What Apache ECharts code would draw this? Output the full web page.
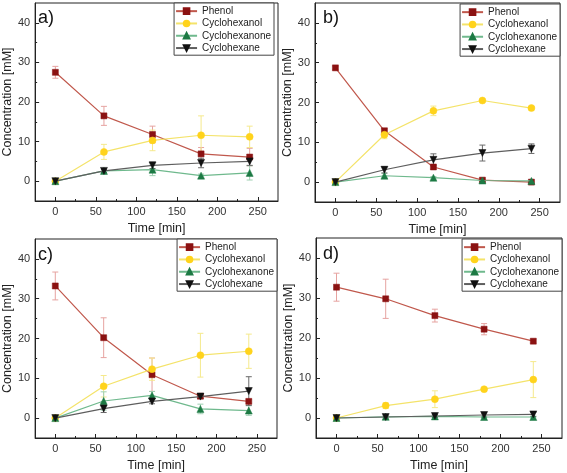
<!DOCTYPE html>
<html>
<head>
<meta charset="utf-8">
<script src="https://cdn.jsdelivr.net/npm/echarts@6/dist/echarts.min.js"></script>
<style>
html,body{margin:0;padding:0;background:#fff;}
#chart{width:567px;height:473px;}
</style>
</head>
<body>
<div id="chart"></div>
<script>
// ---- data ----
var timeMin = [0, 60, 120, 180, 240];
var seriesNames = ['Phenol', 'Cyclohexanol', 'Cyclohexanone', 'Cyclohexane'];
var panelLabels = ['a)', 'b)', 'c)', 'd)'];
var xTickLabels = [0, 50, 100, 150, 200, 250];
var xMinorTicks = [25, 75, 125, 175, 225];
var yTickLabels = [0, 10, 20, 30, 40];
var yMinorTicks = [5, 15, 25, 35];

// panel a
var phenolA = [27.5, 16.5, 11.8, 6.9, 6.1];
var phenolAErr = [1.5, 2.4, 2.1, 1.6, 2.2];
var cyclohexanolA = [0, 7.4, 10.3, 11.6, 11.2];
var cyclohexanolAErr = [0.2, 1.9, 2.6, 4.9, 2.7];
var cyclohexanoneA = [0, 2.6, 2.9, 1.4, 2.1];
var cyclohexanoneAErr = [0.1, 0.4, 1.5, 0.4, 1.8];
var cyclohexaneA = [0, 2.6, 4.0, 4.6, 5.0];
var cyclohexaneAErr = [0.1, 0.4, 0.8, 1.2, 1.0];

// panel b
var phenolB = [28.7, 12.9, 3.8, 0.5, 0.0];
var phenolBErr = [0.4, 0.5, 0.5, 0.3, 0.2];
var cyclohexanolB = [0, 11.9, 17.9, 20.5, 18.6];
var cyclohexanolBErr = [0.2, 1.0, 1.2, 0.3, 0.4];
var cyclohexanoneB = [0, 1.6, 1.1, 0.4, 0.3];
var cyclohexanoneBErr = [0.1, 0.6, 0.3, 0.2, 0.2];
var cyclohexaneB = [0, 3.1, 5.6, 7.3, 8.4];
var cyclohexaneBErr = [0.1, 0.8, 1.5, 2.0, 1.2];

// panel c
var phenolC = [33.2, 20.2, 10.9, 5.5, 4.2];
var phenolCErr = [3.5, 5.0, 4.2, 0.5, 0.5];
var cyclohexanolC = [0, 8.0, 12.3, 15.8, 16.8];
var cyclohexanolCErr = [0.2, 2.7, 2.8, 5.5, 4.3];
var cyclohexanoneC = [0, 4.3, 5.7, 2.3, 1.9];
var cyclohexanoneCErr = [0.1, 2.3, 1.0, 1.2, 1.2];
var cyclohexaneC = [0, 2.4, 4.2, 5.4, 6.8];
var cyclohexaneCErr = [0.1, 1.0, 0.6, 0.5, 3.6];

// panel d
var phenolD = [32.7, 29.8, 25.6, 22.2, 19.2];
var phenolDErr = [3.5, 4.9, 1.6, 1.4, 0.5];
var cyclohexanolD = [0, 3.1, 4.7, 7.2, 9.6];
var cyclohexanolDErr = [0.2, 0.7, 2.1, 0.3, 4.5];
var cyclohexanoneD = [0, 0.3, 0.4, 0.25, 0.25];
var cyclohexanoneDErr = [0.1, 0.2, 0.2, 0.2, 0.2];
var cyclohexaneD = [0, 0.25, 0.5, 0.75, 0.9];
var cyclohexaneDErr = [0.1, 0.5, 0.4, 0.5, 0.5];

var panels = [
  {vals: [phenolA, cyclohexanolA, cyclohexanoneA, cyclohexaneA], errs: [phenolAErr, cyclohexanolAErr, cyclohexanoneAErr, cyclohexaneAErr]},
  {vals: [phenolB, cyclohexanolB, cyclohexanoneB, cyclohexaneB], errs: [phenolBErr, cyclohexanolBErr, cyclohexanoneBErr, cyclohexaneBErr]},
  {vals: [phenolC, cyclohexanolC, cyclohexanoneC, cyclohexaneC], errs: [phenolCErr, cyclohexanolCErr, cyclohexanoneCErr, cyclohexaneCErr]},
  {vals: [phenolD, cyclohexanolD, cyclohexanoneD, cyclohexaneD], errs: [phenolDErr, cyclohexanolDErr, cyclohexanoneDErr, cyclohexaneDErr]}
];

// ---- styles ----
var FONT = 'Liberation Sans';
var styles = [
  {marker: '#8b1212', line: '#c0584c', err: '#e6a3a0', symbol: 'rect', size: 6},
  {marker: '#ffd31c', line: '#f4e36a', err: '#f5e98c', symbol: 'circle', size: 7},
  {marker: '#1d7a44', line: '#6fb98d', err: '#9fd0b2', symbol: 'triangle', size: 7},
  {marker: '#111111', line: '#5e5e5e', err: '#6a6a6a', symbol: 'path://M0,0 L10,0 L5,9 Z', size: 7}
];
var grids = [
  {left: 32, top: 3, width: 246, height: 198},
  {left: 315, top: 3, width: 245, height: 199},
  {left: 31, top: 239, width: 246, height: 200},
  {left: 316, top: 238, width: 246, height: 200}
];
var legendPos = [
  {right: 293, top: 3},
  {right: 7, top: 4},
  {right: 290, top: 239},
  {right: 5, top: 239}
];
var labelPos = [
  {left: 38, top: 9},
  {left: 323, top: 9},
  {left: 38, top: 246},
  {left: 323, top: 245}
];

function errRender(params, api) {
  var x = api.value(0), lo = api.value(1), hi = api.value(2);
  var top = api.coord([x, hi]), bot = api.coord([x, lo]);
  var w = 3;
  var style = {stroke: api.visual('color'), lineWidth: 1};
  return {type: 'group', children: [
    {type: 'line', shape: {x1: top[0], y1: top[1], x2: bot[0], y2: bot[1]}, style: style},
    {type: 'line', shape: {x1: top[0] - w, y1: top[1], x2: top[0] + w, y2: top[1]}, style: style},
    {type: 'line', shape: {x1: bot[0] - w, y1: bot[1], x2: bot[0] + w, y2: bot[1]}, style: style}
  ]};
}

var option = {
  backgroundColor: '#fff',
  animation: false,
  grid: [], xAxis: [], yAxis: [], series: [], legend: [], title: []
};

var axisLineStyle = {color: '#222', width: 1};

panels.forEach(function (p, i) {
  option.grid.push(Object.assign({show: true, borderColor: '#222', borderWidth: 1, backgroundColor: 'transparent'}, grids[i]));
  option.xAxis.push({
    type: 'value', gridIndex: i, position: 'bottom', min: -25, max: 275,
    name: 'Time [min]', nameLocation: 'middle', nameGap: 21,
    nameTextStyle: {fontFamily: FONT, fontSize: 12.5, color: '#222'},
    axisLine: {show: true, onZero: false, lineStyle: axisLineStyle},
    axisTick: {show: true, inside: true, length: 4, customValues: xTickLabels, lineStyle: axisLineStyle},
    axisLabel: {show: true, customValues: xTickLabels, fontFamily: FONT, fontSize: 11, color: '#333', margin: 5},
    splitLine: {show: false}
  });
  option.xAxis.push({
    type: 'value', gridIndex: i, position: 'bottom', min: -25, max: 275,
    axisLine: {show: false, onZero: false},
    axisTick: {show: true, inside: true, length: 2, customValues: xMinorTicks, lineStyle: axisLineStyle},
    axisLabel: {show: false},
    splitLine: {show: false}
  });
  option.yAxis.push({
    type: 'value', gridIndex: i, position: 'left', min: -5, max: 45,
    name: 'Concentration [mM]', nameLocation: 'middle', nameGap: 18,
    nameTextStyle: {fontFamily: FONT, fontSize: 12.5, color: '#222'},
    axisLine: {show: true, onZero: false, lineStyle: axisLineStyle},
    axisTick: {show: true, inside: true, length: 4, customValues: yTickLabels, lineStyle: axisLineStyle},
    axisLabel: {show: true, customValues: yTickLabels, fontFamily: FONT, fontSize: 11, color: '#333', margin: 5},
    splitLine: {show: false}
  });
  option.yAxis.push({
    type: 'value', gridIndex: i, position: 'left', min: -5, max: 45,
    axisLine: {show: false, onZero: false},
    axisTick: {show: true, inside: true, length: 2, customValues: yMinorTicks, lineStyle: axisLineStyle},
    axisLabel: {show: false},
    splitLine: {show: false}
  });

  p.vals.forEach(function (vals, s) {
    var st = styles[s];
    var errs = p.errs[s];
    option.series.push({
      name: seriesNames[s] + ' error',
      type: 'custom',
      xAxisIndex: 2 * i, yAxisIndex: 2 * i,
      renderItem: errRender,
      itemStyle: {color: st.err},
      encode: {x: 0, y: [1, 2]},
      data: timeMin.map(function (t, k) { return [t, vals[k] - errs[k], vals[k] + errs[k]]; }),
      z: 1,
      silent: true
    });
  });
  p.vals.forEach(function (vals, s) {
    var st = styles[s];
    option.series.push({
      name: seriesNames[s],
      type: 'line',
      xAxisIndex: 2 * i, yAxisIndex: 2 * i,
      data: timeMin.map(function (t, k) { return [t, vals[k]]; }),
      symbol: st.symbol,
      symbolSize: st.size,
      showAllSymbol: true,
      itemStyle: {color: st.marker, borderColor: st.marker, borderWidth: 0.5, opacity: 1},
      lineStyle: {color: st.line, width: 1.2},
      z: 3 + s
    });
  });

  option.legend.push(Object.assign({
    orient: 'vertical',
    data: seriesNames,
    backgroundColor: '#fff',
    borderColor: '#444', borderWidth: 1, borderRadius: 0,
    padding: [2, 3, 1, 1],
    itemGap: 0,
    itemWidth: 21, itemHeight: 7,
    textStyle: {fontFamily: FONT, fontSize: 10, color: '#222', lineHeight: 12.3},
    selectedMode: false
  }, legendPos[i]));

  option.title.push(Object.assign({
    text: panelLabels[i],
    padding: 0,
    textStyle: {fontFamily: FONT, fontSize: 18, fontWeight: 'normal', color: '#111'}
  }, labelPos[i]));
});

var chart = echarts.init(document.getElementById('chart'), null, {renderer: 'canvas'});
chart.setOption(option);
</script>
</body>
</html>
